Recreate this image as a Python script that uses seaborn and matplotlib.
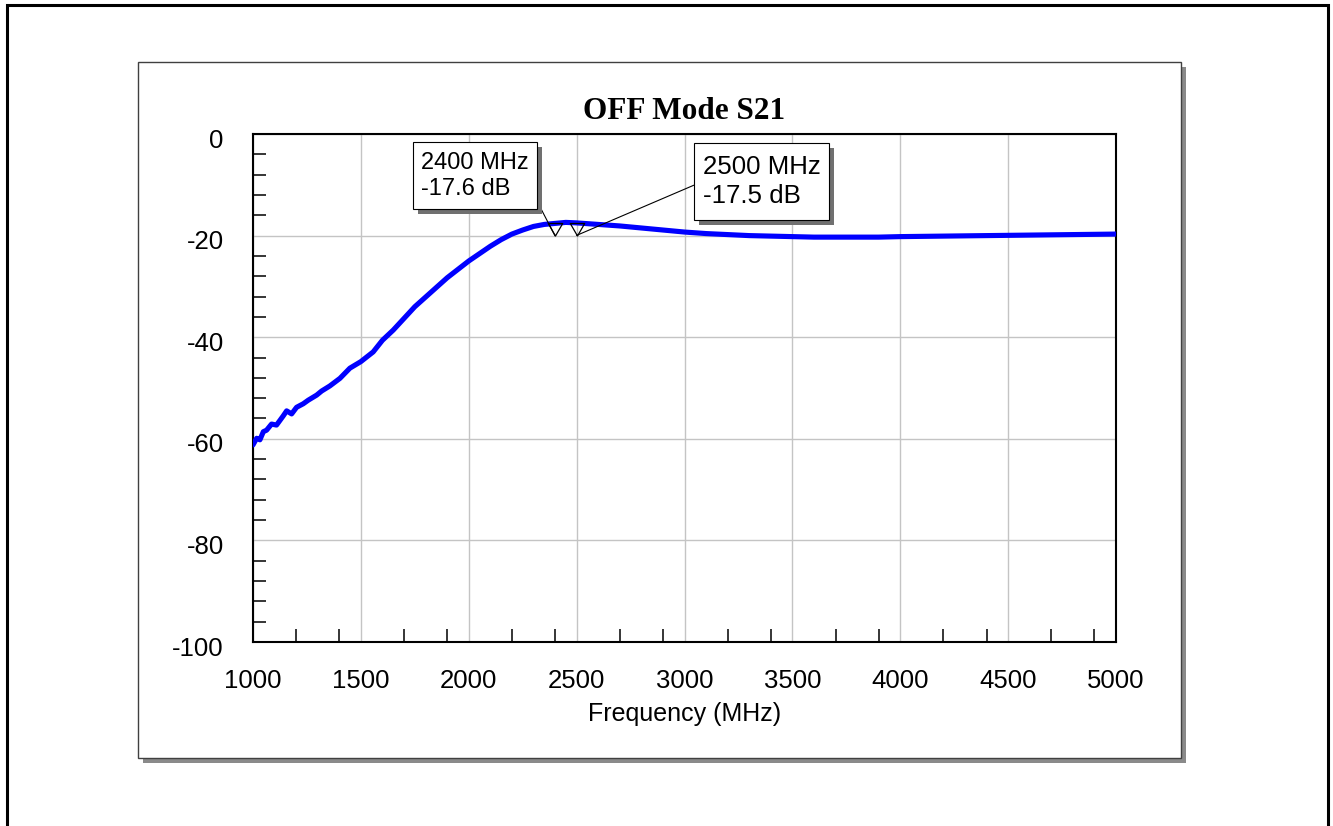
import numpy as np
import pandas as pd
import matplotlib
matplotlib.use("Agg")
import matplotlib.pyplot as plt
import matplotlib.patheffects as pe
import matplotlib.transforms as mtransforms
from matplotlib.patches import Rectangle
from matplotlib.path import Path
import seaborn as sns

# ---------------- data ----------------
freq_mhz = [1000, 1017, 1032, 1048, 1063, 1086, 1109, 1140, 1156, 1179, 1202, 1233,
            1256, 1295, 1318, 1356, 1403, 1449, 1500, 1557, 1600, 1650, 1700, 1750,
            1800, 1900, 2000, 2100, 2150, 2200, 2250, 2300, 2350, 2400, 2450, 2500,
            2600, 2700, 2800, 2900, 3000, 3100, 3200, 3300, 3400, 3500, 3600, 3700,
            3800, 3900, 4000, 4200, 4400, 4600, 4800, 5000]
s21_db = [-61.2, -59.9, -60.2, -58.6, -58.3, -57.1, -57.3, -55.5, -54.5, -55.1, -53.8, -53.1,
          -52.4, -51.4, -50.6, -49.6, -48.1, -46.1, -44.8, -42.9, -40.6, -38.6, -36.3, -34.0,
          -32.1, -28.3, -25.0, -22.1, -20.8, -19.7, -18.9, -18.2, -17.8, -17.6, -17.4, -17.5,
          -17.8, -18.1, -18.5, -18.9, -19.3, -19.6, -19.8, -20.0, -20.1, -20.2, -20.3, -20.3,
          -20.3, -20.3, -20.2, -20.1, -20.0, -19.9, -19.8, -19.7]

marker_freqs = [2400, 2500]
marker_vals = [-17.6, -17.5]

x_ticks = [1000, 1500, 2000, 2500, 3000, 3500, 4000, 4500, 5000]
y_ticks = [-100, -80, -60, -40, -20, 0]

title_text = "OFF Mode S21"
xlabel_text = "Frequency (MHz)"

# ---------------- style ----------------
sns.set_style("white")
plt.rcParams['font.family'] = ['Liberation Sans', 'DejaVu Sans']
plt.rcParams['text.color'] = 'black'
plt.rcParams['axes.labelcolor'] = 'black'
plt.rcParams['xtick.color'] = 'black'
plt.rcParams['ytick.color'] = 'black'

W, H = 1333, 826
fig = plt.figure(figsize=(W / 100, H / 100), dpi=100)
fig.patch.set_facecolor("white")

def fx(px):
    return px / W

def fy(py):
    return 1 - py / H

# outer frame (bottom edge off-page)
fig.patches.append(Rectangle((fx(6.5), -0.05), fx(1328 - 6.5), fy(5.5) + 0.05,
                             transform=fig.transFigure, fill=False,
                             edgecolor="black", lw=2.2, zorder=-5))
# inner panel shadow + panel
fig.patches.append(Rectangle((fx(143), fy(763)), fx(1186 - 143), fy(67) - fy(763),
                             transform=fig.transFigure, facecolor="#8a8a8a",
                             edgecolor="none", zorder=-4))
fig.patches.append(Rectangle((fx(138), fy(758)), fx(1181 - 138), fy(62) - fy(758),
                             transform=fig.transFigure, facecolor="white",
                             edgecolor="#404040", lw=1.0, zorder=-3))

ax = fig.add_axes([fx(253), fy(642), fx(1116 - 253), fy(134) - fy(642)])
ax.set_facecolor("white")

df = pd.DataFrame({"Frequency": freq_mhz, "S21": s21_db})
sns.lineplot(data=df, x="Frequency", y="S21", ax=ax, color="#0000ff",
             linewidth=3.7, sort=True, zorder=3)

ax.set_xlim(1000, 5000)
ax.set_ylim(-100, 0)
ax.set_xticks(x_ticks)
ax.set_yticks(y_ticks)
ax.set_xticklabels([str(t) for t in x_ticks])
ax.set_yticklabels([str(t) for t in y_ticks])

# minor ticks: +200 and +400 within each 500 MHz step; every 4 dB on y
xminor = [t + d for t in x_ticks[:-1] for d in (200, 400)]
yminor = [t + d for t in y_ticks[:-1] for d in (4, 8, 12, 16)]
ax.set_xticks(xminor, minor=True)
ax.set_yticks(yminor, minor=True)

ax.tick_params(axis="both", which="both", bottom=True, left=True, top=False, right=False)
ax.tick_params(axis="both", which="major", length=0, labelsize=18.5, colors="black")
ax.tick_params(axis="x", which="major", pad=19.5)
ax.tick_params(axis="y", which="major", pad=21)
ax.tick_params(axis="both", which="minor", direction="in", length=9.4, width=1.1,
               color="black")

# shift y tick labels slightly down as in the reference
shift = mtransforms.ScaledTranslation(0, -3 / 72, fig.dpi_scale_trans)
for lab in ax.get_yticklabels():
    lab.set_transform(lab.get_transform() + shift)

ax.grid(True, which="major", color="#c4c4c4", linewidth=1.0)
ax.set_axisbelow(True)
for sp in ax.spines.values():
    sp.set_visible(True)
    sp.set_color("black")
    sp.set_linewidth(1.5)

ax.set_xlabel(xlabel_text, fontsize=18, color="black")
ax.xaxis.set_label_coords(0.5, -0.118)
ax.set_ylabel("")
ax.set_title(title_text, fontfamily="Liberation Serif", fontweight="bold",
             fontsize=22.5, pad=10.5, color="black")

# markers (hollow down triangles hanging below the trace point)
ms = 18
tri = Path([(-7.5, 0), (7.5, 0), (0, -13), (-7.5, 0)],
           [Path.MOVETO, Path.LINETO, Path.LINETO, Path.CLOSEPOLY])
ax.plot(marker_freqs, marker_vals, ls="none", marker=tri, ms=ms,
        mfc="none", mec="black", mew=0.9, zorder=4)

apex = mtransforms.offset_copy(ax.transData, fig=fig, x=0, y=-ms / 2, units="points")
offsets = [(-80, 60), (185, 54)]
sizes = [17, 18.6]
relposes = [(1.0, 0.3), (0.0, 0.5)]
spacing = [1.2, 1.24]
aspects = [1.25, 1.45]
for f, v, off, fs, rp, ls, asp in zip(marker_freqs, marker_vals, offsets, sizes,
                                       relposes, spacing, aspects):
    ann = ax.annotate(f"{f} MHz\n{v} dB", xy=(f, v), xycoords=apex,
                      xytext=off, textcoords="offset pixels",
                      ha="center", va="center", multialignment="left",
                      fontsize=fs, linespacing=ls, color="black",
                      bbox=dict(boxstyle="square,pad=0.33", fc="white", ec="black",
                                lw=0.8, mutation_aspect=asp),
                      arrowprops=dict(arrowstyle="-", color="black", lw=0.8,
                                      shrinkA=0, shrinkB=0, relpos=rp),
                      zorder=6, annotation_clip=False)
    ann.get_bbox_patch().set_path_effects(
        [pe.withSimplePatchShadow(offset=(3.5, -3.5), shadow_rgbFace="#707070", alpha=1.0)])

fig.savefig("out.png", dpi=100, facecolor="white")
